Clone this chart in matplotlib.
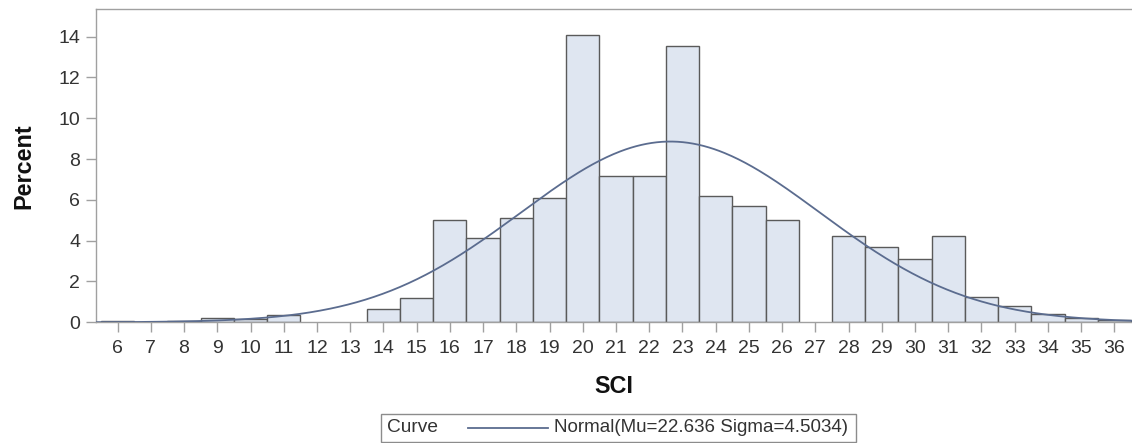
import numpy as np
import matplotlib
matplotlib.use('Agg')
import matplotlib.pyplot as plt
from matplotlib.patches import Rectangle
from matplotlib.lines import Line2D

plt.rcParams['font.family'] = ['Liberation Sans', 'DejaVu Sans']

# histogram of SCI (bin midpoints, width 1) and percent per bin
sci_bins = list(range(6, 37))
percent = [0.06, 0.0, 0.05, 0.19, 0.15, 0.35, 0.0, 0.0, 0.67, 1.19,
           5.00, 4.14, 5.09, 6.08, 14.08, 7.16, 7.16, 13.56, 6.20, 5.69,
           5.00, 0.0, 4.25, 3.70, 3.12, 4.25, 1.26, 0.82, 0.43, 0.23, 0.12]

# fitted normal curve parameters (from the legend)
mu = 22.636
sigma = 4.5034
bin_width = 1.0

fill_col = '#DFE6F1'
edge_col = '#5A5A5A'
curve_col = '#5B6C8F'
axis_col = '#A0A0A0'
text_col = '#333333'

W, H = 1132, 443
fig = plt.figure(figsize=(W / 100, H / 100), dpi=100)
ax = fig.add_axes([96 / W, 120.7 / H, 1 - 96 / W, 312.8 / H])

x = np.array(sci_bins, dtype=float)
h = np.array(percent)
keep = h > 0
ax.bar(x[keep], h[keep], width=bin_width, color=fill_col,
       edgecolor=edge_col, linewidth=1.0, zorder=2)

xs = np.linspace(5.3, 36.6, 600)
pdf = 100 * bin_width * np.exp(-0.5 * ((xs - mu) / sigma) ** 2) / (sigma * np.sqrt(2 * np.pi))
ax.plot(xs, pdf, color=curve_col, linewidth=1.3, zorder=3)

ax.set_xlim(5.35, 36.53)
ax.set_ylim(0, 15.33)
ax.set_xticks(sci_bins)
ax.set_yticks([0, 2, 4, 6, 8, 10, 12, 14])

for s in ['top', 'left', 'bottom']:
    ax.spines[s].set_color(axis_col)
    ax.spines[s].set_linewidth(1.0)
ax.spines['right'].set_visible(False)

ax.tick_params(axis='both', colors=axis_col, labelcolor=text_col,
               labelsize=14, length=7.5, width=1.0)
ax.tick_params(axis='x', pad=5)
ax.tick_params(axis='y', pad=4)

fig.text(24 / W, 1 - 166 / H, 'Percent', fontsize=16.8, fontweight='bold',
         color='#111111', ha='center', va='center', rotation=90)
fig.text(614 / W, 1 - 386.5 / H, 'SCI', fontsize=16.8, fontweight='bold',
         color='#111111', ha='center', va='center')

# legend box below the plot
fig.patches.append(Rectangle((380.7 / W, 1 - 441.7 / H), 475.3 / W, 27.4 / H,
                             transform=fig.transFigure, facecolor='white',
                             edgecolor='#8C8C8C', linewidth=1.0))
ly = 1 - 428 / H
fig.text(386.7 / W, ly, 'Curve', fontsize=13.8, color=text_col, ha='left', va='center')
fig.lines.append(Line2D([468 / W, 548 / W], [ly, ly], transform=fig.transFigure,
                        color=curve_col, linewidth=1.3))
fig.text(848.3 / W, ly, 'Normal(Mu=22.636 Sigma=4.5034)', fontsize=13.5,
         color=text_col, ha='right', va='center')

fig.savefig('out.png', dpi=100)
